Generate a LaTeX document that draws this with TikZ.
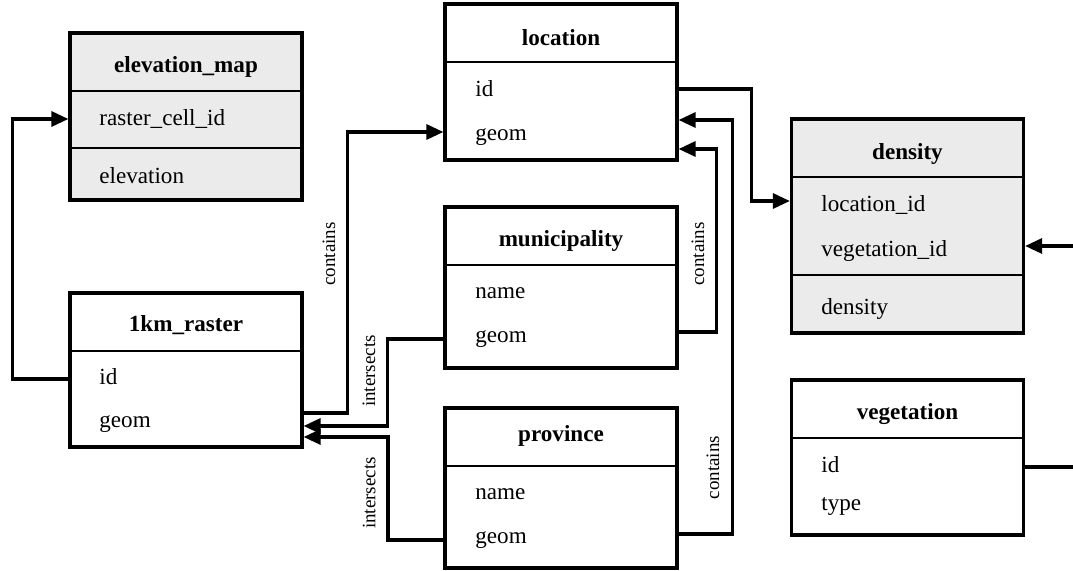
\documentclass[tikz,border=0pt]{standalone}
\usepackage{fontspec}
\setmainfont{Liberation Serif}
\usetikzlibrary{arrows.meta, calc}
\definecolor{keyfill}{HTML}{EBEBEB}

\begin{document}
\begin{tikzpicture}[
    x=0.5pt, y=-0.5pt,
    entity/.style={shape=rectangle, draw=black, line width=1.6pt, minimum width=116pt, inner sep=0pt, fill=white},
    keyentity/.style={entity, fill=keyfill},
    entitytitle/.style={font=\fontsize{11.55}{14}\selectfont\bfseries},
    attr/.style={anchor=west, inner sep=0pt, font=\fontsize{11.55}{14}\selectfont},
    divider/.style={line width=0.8pt},
    rel/.style={font=\fontsize{9.5}{11}\selectfont, sloped, above=2pt},
    fk/.style={line width=1.6pt, -{Triangle[length=8.5pt, width=7.5pt]}},
    fkrev/.style={line width=1.6pt, {Triangle[length=8.5pt, width=7.5pt]}-},
]
\useasboundingbox (0,0) rectangle (1073,571);
\clip (0,0) rectangle (1073,571);

% tables
\node[keyentity, minimum height=83.5pt] (elev) at (186,116.5) {};
\node[entity, minimum height=77pt] (raster) at (186,370) {};
\node[entity, minimum height=78pt] (loc) at (561,82) {};
\node[entity, minimum height=80.5pt] (muni) at (561,287.5) {};
\node[entity, minimum height=80pt] (prov) at (561,488) {};
\node[keyentity, minimum height=107pt] (dens) at (907.5,226) {};
\node[entity, minimum height=77.5pt] (veg) at (907.5,457.5) {};

\foreach \t in {elev, raster, loc, muni, prov, dens, veg}
    \draw[divider] ([yshift=-29.8pt]\t.north west) -- ([yshift=-29.8pt]\t.north east);
\draw[divider] ([yshift=26.8pt]elev.south west) -- ([yshift=26.8pt]elev.south east);
\draw[divider] ([yshift=29.8pt]dens.south west) -- ([yshift=29.8pt]dens.south east);

\node[entitytitle] (elev-title) at (186,67) {elevation\_map};
\node[attr] (elev-cell) at (99,119) {raster\_cell\_id};
\node[attr] (elev-value) at (99,176) {elevation};

\node[entitytitle] (raster-title) at (186,325) {1km\_raster};
\node[attr] (raster-id) at (99,377) {id};
\node[attr] (raster-geom) at (99,424) {geom};

\node[entitytitle] (loc-title) at (561,38) {location};
\node[attr] (loc-id) at (475,89) {id};
\node[attr] (loc-geom) at (475,137) {geom};

\node[entitytitle] (muni-title) at (561,241) {municipality};
\node[attr] (muni-name) at (475,293) {name};
\node[attr] (muni-geom) at (475,339) {geom};

\node[entitytitle] (prov-title) at (561,436) {province};
\node[attr] (prov-name) at (475,494) {name};
\node[attr] (prov-geom) at (475,540) {geom};

\node[entitytitle] (dens-title) at (907.5,154) {density};
\node[attr] (dens-loc) at (821,205) {location\_id};
\node[attr] (dens-veg) at (821,251) {vegetation\_id};
\node[attr] (dens-value) at (821,309) {density};

\node[entitytitle] (veg-title) at (907.5,414) {vegetation};
\node[attr] (veg-id) at (821,465) {id};
\node[attr] (veg-type) at (821,506) {type};

% relations
\draw[fk] ($(raster.west |- raster-id)+(0,2)$) -- ++(-56,0) |- (elev.west |- elev-cell);
\draw[fk] ($(raster.east |- raster-geom)+(0,-11)$) -- ++(44,0)
    |- node[rel, pos=0.283] {contains} ($(loc.west |- loc-geom)+(0,-5)$);
\draw[fkrev] ($(raster.east |- raster-geom)+(0,2)$) -- ++(84,0)
    |- node[rel, pos=0.316] {intersects} (muni.west |- muni-geom);
\draw[fk] (prov.west |- prov-geom) -- ++(-55.5,0)
    |- node[rel, pos=0.228] {intersects} ($(raster.east |- raster-geom)+(0,13)$);
\draw[fk] ($(muni.east |- muni-geom)+(0,-7)$) -- ++(38,0)
    |- node[rel, pos=0.213] {contains} ($(loc.east |- loc-geom)+(0,12)$);
\draw[fk] ($(prov.east |- prov-geom)+(0,-6)$) -- ++(54,0)
    |- node[rel, pos=0.08, above=0.5pt] {contains} ($(loc.east |- loc-geom)+(0,-17)$);
\draw[fk] (loc.east |- loc-id) -- ++(73,0) |- ($(dens.west |- dens-loc)+(0,-4)$);
\draw[fk] ($(veg.east |- veg-id)+(0,2)$) -- ++(80,0) |- ($(dens.east |- dens-veg)+(0,-5)$);
\end{tikzpicture}
\end{document}
